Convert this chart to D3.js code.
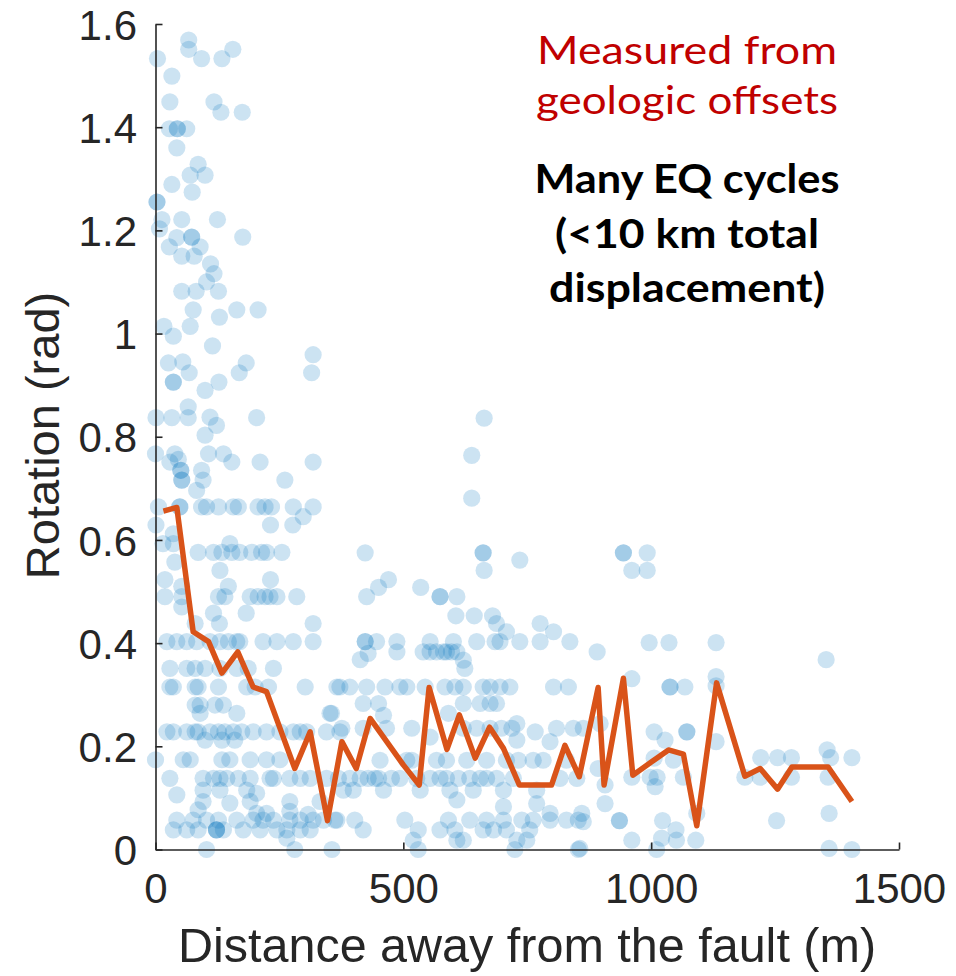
<!DOCTYPE html>
<html>
<head>
<meta charset="utf-8">
<script src="https://cdn.jsdelivr.net/npm/d3@7"></script>
<style>
  html, body { margin: 0; padding: 0; background: #fff; }
  svg { display: block; }
</style>
</head>
<body>
<svg id="chart" width="956" height="976"></svg>
<script>
// Axis ticks
const xTickValues = [0, 500, 1000, 1500];
const xTickLabels = ["0", "500", "1000", "1500"];
const yTickValues = [0, 0.2, 0.4, 0.6, 0.8, 1.0, 1.2, 1.4, 1.6];
const yTickLabels = ["0", "0.2", "0.4", "0.6", "0.8", "1", "1.2", "1.4", "1.6"];

// Individual rotation measurements: [distance from fault (m), rotation (rad)]
const measurements = [
  [67,1.569],[67,1.551],[156,1.551],[4,1.533],[93,1.533],[134,1.533],[33,1.499],
  [29,1.449],[118,1.449],[132,1.429],[175,1.429],
  [28,1.397],[44,1.397],[44,1.397],[63,1.397],
  [43,1.360],[86,1.328],[70,1.307],[100,1.307],[33,1.289],[74,1.274],[3,1.255],[3,1.255],
  [13,1.221],[53,1.221],[125,1.221],[8,1.203],[73,1.187],[73,1.187],[176,1.187],[43,1.186],
  [28,1.168],[90,1.168],[53,1.150],[78,1.150],[111,1.135],[118,1.116],[103,1.100],
  [53,1.082],[82,1.082],[127,1.082],[76,1.046],[164,1.046],[207,1.046],[129,1.032],
  [17,1.014],[70,1.014],[36,0.995],[115,0.976],[318,0.959],
  [26,0.943],[55,0.945],[68,0.924],[183,0.943],[169,0.924],[315,0.924],
  [36,0.906],[36,0.906],[128,0.906],[100,0.890],[66,0.858],
  [1,0.837],[33,0.837],[66,0.837],[110,0.838],[123,0.822],[204,0.837],[100,0.803],
  [0,0.767],[39,0.767],[107,0.767],[137,0.767],[154,0.751],[211,0.751],[318,0.751],[29,0.751],[46,0.756],
  [51,0.735],[51,0.735],[53,0.716],[53,0.716],[93,0.735],[96,0.716],[83,0.696],[261,0.716],
  [6,0.664],[49,0.664],[49,0.664],[93,0.664],[103,0.664],[127,0.664],[157,0.664],[167,0.664],
  [207,0.664],[221,0.664],[234,0.664],[278,0.664],[318,0.664],
  [1,0.629],[232,0.629],[277,0.629],[298,0.645],[36,0.612],[15,0.593],[36,0.593],[150,0.593],
  [86,0.576],[117,0.576],[134,0.576],[154,0.576],[170,0.576],[194,0.576],[214,0.576],[224,0.576],[255,0.576],
  [39,0.557],[130,0.541],[19,0.523],[232,0.523],[53,0.510],[147,0.510],
  [19,0.490],[53,0.490],[127,0.490],[140,0.490],[191,0.490],[207,0.490],[221,0.490],[231,0.490],[245,0.490],[285,0.490],
  [53,0.470],[117,0.458],[183,0.458],[80,0.438],[129,0.438],[318,0.438],
  [23,0.403],[43,0.403],[63,0.403],[83,0.403],[110,0.403],[130,0.403],[147,0.403],[164,0.403],[170,0.403],
  [217,0.403],[245,0.403],[278,0.403],[318,0.403],
  [29,0.351],[63,0.351],[80,0.351],[100,0.351],[130,0.351],[164,0.351],[187,0.351],[238,0.351],
  [29,0.315],[36,0.315],[80,0.315],[86,0.315],[127,0.315],[184,0.315],[201,0.315],[228,0.315],[302,0.315],[366,0.315],
  [80,0.280],[90,0.280],[120,0.280],[137,0.280],
  [90,0.264],[164,0.264],[352,0.264],
  [23,0.228],[36,0.228],[63,0.228],[80,0.228],[86,0.228],[110,0.228],[127,0.228],[140,0.228],[157,0.228],
  [174,0.228],[197,0.228],[224,0.228],[251,0.228],[278,0.228],[292,0.228],[305,0.228],[345,0.228],[372,0.228],
  [100,0.212],[134,0.212],[160,0.212],
  [0,0.174],[56,0.174],[70,0.174],[134,0.174],[150,0.174],[191,0.174],[224,0.174],[251,0.174],
  [29,0.138],[96,0.138],[117,0.138],[130,0.138],[144,0.138],[167,0.138],[191,0.138],[231,0.138],
  [238,0.138],[271,0.138],[292,0.138],[312,0.138],[345,0.138],[369,0.138],
  [43,0.106],[96,0.115],[130,0.115],[184,0.115],[204,0.109],
  [96,0.093],[150,0.090],[191,0.093],[271,0.093],[332,0.093],
  [86,0.077],[204,0.070],[224,0.070],[271,0.074],[308,0.068],
  [43,0.057],[76,0.057],[103,0.057],[127,0.057],[164,0.057],[197,0.057],[217,0.057],[238,0.057],
  [271,0.057],[292,0.057],[318,0.057],[339,0.057],[366,0.057],
  [36,0.038],[63,0.038],[86,0.038],[123,0.038],[123,0.038],[123,0.038],[137,0.038],[177,0.038],
  [211,0.038],[245,0.038],[265,0.038],[292,0.038],[312,0.038],
  [265,0.022],[103,0.0],[281,0.0],[356,0.0],
  [663,0.836],[638,0.764],[638,0.681],
  [423,0.575],[661,0.575],[661,0.575],[663,0.541],[735,0.561],
  [470,0.523],[450,0.508],[426,0.490],[535,0.508],[574,0.490],[574,0.490],[608,0.490],
  [606,0.453],[643,0.453],[680,0.453],[688,0.438],[708,0.422],[776,0.438],[803,0.422],[836,0.403],
  [423,0.403],[423,0.403],[446,0.403],[487,0.403],[554,0.403],[601,0.403],[648,0.403],[685,0.403],
  [695,0.403],[735,0.403],[776,0.403],
  [487,0.383],[540,0.383],[554,0.383],[567,0.383],[581,0.383],[587,0.383],[597,0.383],[608,0.383],
  [413,0.368],[429,0.380],[624,0.351],[621,0.367],
  [372,0.315],[392,0.315],[426,0.315],[463,0.315],[493,0.315],[507,0.315],[544,0.315],[584,0.315],
  [604,0.315],[621,0.315],[661,0.315],[675,0.315],[695,0.315],[715,0.315],[803,0.315],[833,0.315],
  [419,0.283],[450,0.283],[621,0.283],[655,0.283],[675,0.283],[688,0.283],
  [355,0.264],[460,0.260],[591,0.264],[729,0.244],[766,0.228],[796,0.209],
  [376,0.235],[419,0.235],[466,0.235],[517,0.235],[621,0.235],[648,0.235],[675,0.235],[698,0.235],
  [719,0.235],[809,0.235],[843,0.235],[863,0.235],
  [554,0.218],[729,0.212],
  [453,0.173],[507,0.173],[517,0.173],[567,0.173],[587,0.173],[628,0.173],[668,0.173],[708,0.173],
  [732,0.173],[762,0.173],[782,0.173],[829,0.173],
  [392,0.138],[413,0.138],[429,0.138],[443,0.138],[450,0.138],[476,0.138],[493,0.138],[527,0.138],
  [554,0.138],[574,0.138],[587,0.138],[611,0.138],[634,0.138],[655,0.138],[668,0.138],[688,0.138],
  [722,0.138],[816,0.138],[850,0.138],
  [379,0.115],[399,0.115],[460,0.115],[534,0.115],[594,0.115],[641,0.115],[702,0.115],[769,0.115],
  [608,0.096],[702,0.083],[769,0.089],[796,0.070],
  [362,0.057],[402,0.057],[503,0.057],[591,0.057],[634,0.057],[668,0.057],[702,0.057],[739,0.057],
  [762,0.057],[796,0.057],[829,0.057],[853,0.057],
  [419,0.038],[530,0.038],[574,0.038],[604,0.038],[661,0.038],[682,0.038],[708,0.038],[755,0.038],
  [520,0.018],[608,0.018],[621,0.018],[729,0.018],[749,0.018],
  [530,0.0],[725,0.0],[853,0.0],
  [944,0.575],[944,0.575],[992,0.575],[961,0.541],[992,0.541],
  [891,0.383],[996,0.401],[1036,0.401],[1131,0.401],[1353,0.368],
  [961,0.331],[1131,0.335],[1038,0.315],[1038,0.315],[1068,0.315],[1131,0.317],
  [1006,0.228],[1072,0.228],[1072,0.228],[1028,0.212],[1131,0.209],[897,0.244],
  [1221,0.178],[1255,0.178],[1283,0.178],[1355,0.193],[1362,0.178],[1405,0.178],
  [1006,0.177],[1045,0.173],[893,0.157],
  [961,0.140],[998,0.140],[1012,0.140],[1065,0.140],[1189,0.140],[1220,0.140],[1283,0.140],[1357,0.140],
  [907,0.125],[1008,0.122],[907,0.089],[1092,0.070],
  [860,0.070],[863,0.054],[936,0.056],[936,0.056],[1023,0.056],[1253,0.056],[1359,0.070],
  [1050,0.038],[961,0.018],[1021,0.022],[1051,0.018],[1090,0.018],
  [856,0.002],[1011,0.0],[1359,0.002],[1405,0.0]
];

// Binned trend through the measurements
const trendDistance = [16, 43, 76, 107, 134, 166, 197, 224, 281, 312, 347, 376, 405, 433, 500, 532,
  552, 588, 613, 645, 674, 702, 734, 799, 826, 855, 893, 905, 944, 963, 1001, 1035, 1065, 1092,
  1132, 1189, 1220, 1255, 1284, 1357, 1405];
const trendRotation = [0.656, 0.663, 0.422, 0.403, 0.342, 0.383, 0.315, 0.306, 0.157, 0.228, 0.056,
  0.209, 0.157, 0.254, 0.164, 0.125, 0.314, 0.194, 0.261, 0.177, 0.237, 0.196, 0.125, 0.125, 0.202,
  0.141, 0.314, 0.125, 0.332, 0.144, 0.170, 0.193, 0.185, 0.046, 0.323, 0.142, 0.157, 0.117, 0.160,
  0.160, 0.093];

// Annotation text
const noteSource = ["Measured from", "geologic offsets"];
const noteCycles = ["Many EQ cycles", "(<10 km total", "displacement)"];

const svg = d3.select("#chart");
const axisColor = "#262626";
const tickFont = "'Liberation Sans', Arial, Helvetica, sans-serif";

const x = d3.scaleLinear().domain([0, 1500]).range([155.5, 899]);
const y = d3.scaleLinear().domain([0, 1.6]).range([849.5, 24]);

// Scatter of measurements
svg.append("g")
  .selectAll("circle")
  .data(measurements)
  .join("circle")
  .attr("cx", d => x(d[0]))
  .attr("cy", d => y(d[1]))
  .attr("r", 8.6)
  .attr("fill", "#0072BD")
  .attr("fill-opacity", 0.2);

// Trend line
const trend = trendDistance.map((d, i) => [d, trendRotation[i]]);
svg.append("path")
  .datum(trend)
  .attr("fill", "none")
  .attr("stroke", "#D95319")
  .attr("stroke-width", 5.5)
  .attr("stroke-linejoin", "round")
  .attr("d", d3.line().x(d => x(d[0])).y(d => y(d[1])));

// Y axis (ticks pointing into the plot)
const yAxis = svg.append("g")
  .attr("transform", `translate(${x(0)},0)`)
  .call(d3.axisLeft(y)
    .tickValues(yTickValues)
    .tickFormat((d, i) => yTickLabels[i])
    .tickSizeInner(-7)
    .tickSizeOuter(0)
    .tickPadding(18.5));

// X axis (ticks pointing into the plot)
const xAxis = svg.append("g")
  .attr("transform", `translate(0,${y(0)})`)
  .call(d3.axisBottom(x)
    .tickValues(xTickValues)
    .tickFormat((d, i) => xTickLabels[i])
    .tickSizeInner(-7)
    .tickSizeOuter(0)
    .tickPadding(24));

[yAxis, xAxis].forEach(g => {
  g.select(".domain").attr("stroke", axisColor).attr("stroke-width", 1.6);
  g.selectAll(".tick line").attr("stroke", axisColor).attr("stroke-width", 1.6);
  g.selectAll(".tick text")
    .attr("fill", axisColor)
    .style("font-family", tickFont)
    .style("font-size", "42px");
});
yAxis.selectAll(".tick text").attr("dy", "0.36em");
xAxis.selectAll(".tick text").attr("dy", null).attr("y", 53.5);

// Axis titles
svg.append("text")
  .attr("x", 527)
  .attr("y", 962)
  .attr("text-anchor", "middle")
  .attr("fill", axisColor)
  .style("font-family", tickFont)
  .style("font-size", "48.5px")
  .text("Distance away from the fault (m)");

svg.append("text")
  .attr("transform", "translate(59,435.5) rotate(-90)")
  .attr("text-anchor", "middle")
  .attr("fill", axisColor)
  .style("font-family", tickFont)
  .style("font-size", "47px")
  .text("Rotation (rad)");

// Annotations
const noteFont = "Lato, 'Open Sans', sans-serif";
const sourceBaselines = [64, 114];
const sourceWidths = [300, 302];
noteSource.forEach((t, i) => {
  svg.append("text")
    .attr("x", 687)
    .attr("y", sourceBaselines[i])
    .attr("text-anchor", "middle")
    .attr("fill", "#C00000")
    .attr("textLength", sourceWidths[i])
    .attr("lengthAdjust", "spacingAndGlyphs")
    .style("font-family", noteFont)
    .style("font-size", "39px")
    .text(t);
});

const cycleBaselines = [193, 248, 302];
const cycleWidths = [305, 264, 276];
noteCycles.forEach((t, i) => {
  svg.append("text")
    .attr("x", 687)
    .attr("y", cycleBaselines[i])
    .attr("text-anchor", "middle")
    .attr("fill", "#000")
    .attr("textLength", cycleWidths[i])
    .attr("lengthAdjust", "spacingAndGlyphs")
    .style("font-family", noteFont)
    .style("font-weight", "bold")
    .style("font-size", "41px")
    .text(t);
});
</script>
</body>
</html>
